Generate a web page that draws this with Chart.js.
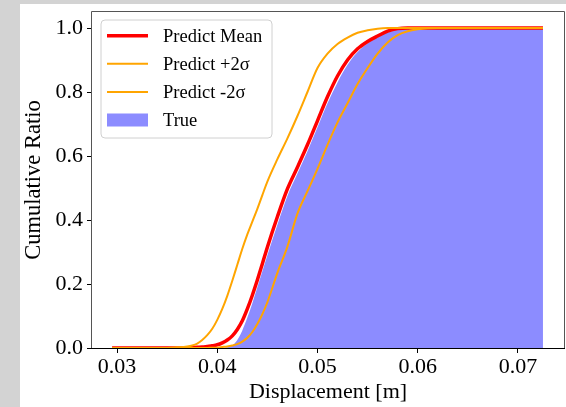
<!DOCTYPE html>
<html><head><meta charset="utf-8">
<script src="https://cdn.jsdelivr.net/npm/chart.js@4/dist/chart.umd.min.js"></script>
<style>
html,body{margin:0;padding:0;background:#d3d3d3;width:566px;height:407px;overflow:hidden}
#wrap{position:absolute;left:20px;top:4px;width:546px;height:403px;background:#fff}
canvas{display:block}
</style></head><body>
<div id="wrap"><canvas id="c" width="546" height="403"></canvas></div>
<script>
// ---- data ----
const displacement = [0.0295,0.035,0.036,0.037,0.0375,0.038,0.0385,0.039,0.0395,0.040,0.0405,0.041,0.0415,0.042,0.0425,0.043,0.0435,0.044,0.0445,0.045,0.046,0.047,0.048,0.049,0.050,0.051,0.052,0.053,0.054,0.055,0.056,0.057,0.058,0.059,0.060,0.061,0.062,0.065,0.0725];
const predictMean = [0,0,0,0,0.001,0.002,0.003,0.005,0.007,0.01,0.016,0.025,0.038,0.058,0.085,0.122,0.165,0.2125,0.263,0.315,0.41,0.497,0.565,0.635,0.71,0.785,0.85,0.9,0.935,0.958,0.975,0.99,0.998,1,1,1,1,1,1];
const predictPlus2Sigma = [0,0,0.002,0.005,0.008,0.014,0.025,0.04,0.06,0.088,0.122,0.163,0.21,0.26,0.31,0.355,0.395,0.435,0.478,0.52,0.59,0.655,0.725,0.80,0.875,0.92,0.95,0.97,0.985,0.993,0.998,1,1,1,1,1,1,1,1];
const predictMinus2Sigma = [0,0,0,0,0,0,0,0,0.001,0.001,0.003,0.005,0.008,0.012,0.02,0.032,0.05,0.075,0.106,0.143,0.235,0.317,0.42,0.49,0.56,0.635,0.705,0.765,0.825,0.875,0.92,0.955,0.978,0.99,0.996,0.999,1,1,1];
const trueCumulative = [0,0,0,0,0,0,0,0,0,0,0,0.002,0.008,0.025,0.055,0.095,0.14,0.19,0.24,0.29,0.385,0.475,0.545,0.615,0.69,0.765,0.83,0.885,0.925,0.952,0.972,0.986,0.995,0.999,1,1,1,1,1];
const xTicks = [0.03,0.04,0.05,0.06,0.07];
const yTicks = [0.0,0.2,0.4,0.6,0.8,1.0];
const seriesLabels = ['Predict Mean','Predict +2σ','Predict -2σ','True'];

const FONT = '"Liberation Serif","Times New Roman",serif';
const pts = arr => displacement.map((x,i)=>({x, y: arr[i]}));

const framePlugin = {
  id:'frame',
  afterDatasetsDraw(chart){
    const {ctx, chartArea:a} = chart;
    ctx.save();
    ctx.lineWidth = 1;
    ctx.strokeStyle = '#555';
    ctx.beginPath();
    ctx.moveTo(a.left-0.5, a.bottom); ctx.lineTo(a.left-0.5, a.top-0.5);
    ctx.lineTo(a.right+0.5, a.top-0.5); ctx.lineTo(a.right+0.5, a.bottom);
    ctx.stroke();
    ctx.strokeStyle = '#000';
    ctx.beginPath();
    ctx.moveTo(a.left-1, a.bottom+0.5); ctx.lineTo(a.right+1, a.bottom+0.5);
    ctx.stroke();
    ctx.restore();
  }
};

const legendPlugin = {
  id:'boxLegend',
  afterDraw(chart){
    const {ctx, chartArea:a} = chart;
    const x0 = a.left + 9, y0 = a.top + 8, w = 171, h = 118, r = 4;
    ctx.save();
    ctx.beginPath();
    ctx.moveTo(x0+r, y0); ctx.lineTo(x0+w-r, y0); ctx.arcTo(x0+w, y0, x0+w, y0+r, r);
    ctx.lineTo(x0+w, y0+h-r); ctx.arcTo(x0+w, y0+h, x0+w-r, y0+h, r);
    ctx.lineTo(x0+r, y0+h); ctx.arcTo(x0, y0+h, x0, y0+h-r, r);
    ctx.lineTo(x0, y0+r); ctx.arcTo(x0, y0, x0+r, y0, r);
    ctx.closePath();
    ctx.fillStyle = 'rgba(255,255,255,0.8)'; ctx.fill();
    ctx.strokeStyle = '#d0d0d0'; ctx.lineWidth = 1; ctx.stroke();
    const order = [2,0,1,3];
    order.forEach((di,k) => {
      const ds = chart.data.datasets[di];
      const cy = y0 + 15.7 + k*28.1;
      if (ds.fill) {
        ctx.fillStyle = ds.backgroundColor;
        ctx.fillRect(x0+6, cy-6.5, 41, 13);
      } else {
        ctx.strokeStyle = ds.borderColor; ctx.lineWidth = ds.borderWidth;
        ctx.beginPath(); ctx.moveTo(x0+6, cy); ctx.lineTo(x0+47, cy); ctx.stroke();
      }
      ctx.fillStyle = '#000';
      ctx.font = '18.5px ' + FONT;
      ctx.textBaseline = 'middle';
      ctx.textAlign = 'left';
      ctx.fillText(ds.label, x0+62, cy+1);
    });
    ctx.restore();
  }
};

new Chart(document.getElementById('c'), {
  type:'line',
  data:{
    datasets:[
      {label:seriesLabels[1], data:pts(predictPlus2Sigma), borderColor:'#ffa500', borderWidth:2, pointRadius:0, fill:false, cubicInterpolationMode:'monotone'},
      {label:seriesLabels[2], data:pts(predictMinus2Sigma), borderColor:'#ffa500', borderWidth:2, pointRadius:0, fill:false, cubicInterpolationMode:'monotone'},
      {label:seriesLabels[0], data:pts(predictMean), borderColor:'#ff0000', borderWidth:3.5, pointRadius:0, fill:false, cubicInterpolationMode:'monotone'},
      {label:seriesLabels[3], data:pts(trueCumulative), borderColor:'rgba(0,0,0,0)', borderWidth:0, backgroundColor:'#8c8cff', pointRadius:0, fill:'origin', cubicInterpolationMode:'monotone'}
    ]
  },
  options:{
    responsive:false, devicePixelRatio:1, animation:false,
    layout:{padding:{top:8, right:2, left:0, bottom:0}},
    plugins:{legend:{display:false}, tooltip:{enabled:false}},
    scales:{
      x:{
        type:'linear', min:0.0275, max:0.0746,
        afterBuildTicks: s => { s.ticks = xTicks.map(v=>({value:v})); },
        afterFit: s => { s.height = 59; s.paddingLeft = 0; s.paddingRight = 0; },
        ticks:{callback:v=>Number(v).toFixed(2), font:{family:FONT,size:22}, color:'#000', padding:1, maxRotation:0, autoSkip:false},
        grid:{display:true, drawOnChartArea:false, drawTicks:true, tickLength:5, color:'#000', lineWidth:1},
        border:{display:false},
        title:{display:true, text:'Displacement [m]', font:{family:FONT,size:22}, color:'#000', padding:{top:0,bottom:2}}
      },
      y:{
        type:'linear', min:0, max:1.05,
        afterBuildTicks: s => { s.ticks = yTicks.map(v=>({value:v})); },
        afterFit: s => { s.width = 72; s.paddingTop = 0; s.paddingBottom = 0; },
        ticks:{callback:v=>Number(v).toFixed(1), font:{family:FONT,size:22}, color:'#000', padding:4, autoSkip:false},
        grid:{display:true, drawOnChartArea:false, drawTicks:true, tickLength:5, color:'#000', lineWidth:1},
        border:{display:false},
        title:{display:true, text:'Cumulative Ratio', font:{family:FONT,size:22.5}, color:'#000', padding:{top:1,bottom:0}}
      }
    }
  },
  plugins:[framePlugin, legendPlugin]
});
</script>
</body></html>
